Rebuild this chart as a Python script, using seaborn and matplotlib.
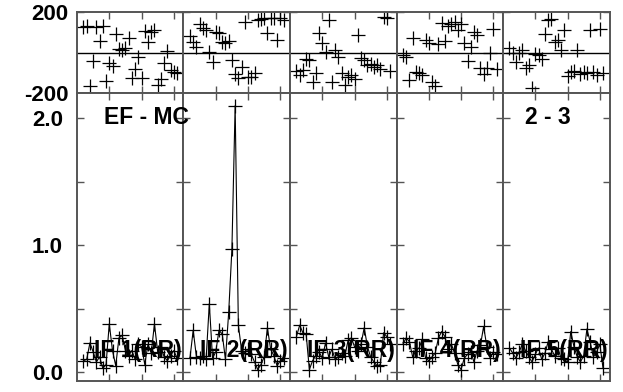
import matplotlib
matplotlib.use('Agg')
import matplotlib.pyplot as plt
import seaborn as sns
import pandas as pd

sns.set_theme(style='white')
plt.rcParams['font.family'] = ['Liberation Sans', 'DejaVu Sans']
plt.rcParams['font.weight'] = 'bold'
plt.rcParams['axes.unicode_minus'] = False
plt.rcParams['text.color'] = 'black'

channels = list(range(2, 32))
if_labels = ['IF 1(RR)', 'IF 2(RR)', 'IF 3(RR)', 'IF 4(RR)', 'IF 5(RR)']

amp_if1 = [0.09, 0.10, 0.23, 0.16, 0.08, 0.12, 0.03, 0.06, 0.38, 0.17, 0.05, 0.27, 0.29, 0.17, 0.13,
           0.17, 0.10, 0.22, 0.20, 0.06, 0.22, 0.15, 0.38, 0.16, 0.20, 0.12, 0.09, 0.13, 0.17, 0.11]
amp_if2 = [0.11, 0.33, 0.12, 0.11, 0.13, 0.10, 0.54, 0.11, 0.16, 0.33, 0.30, 0.10, 0.47, 0.97, 2.10,
           0.37, 0.17, 0.15, 0.18, 0.14, 0.08, 0.02, 0.06, 0.12, 0.35, 0.18, 0.13, 0.05, 0.09, 0.11]
amp_if3 = [0.28, 0.37, 0.31, 0.30, 0.02, 0.09, 0.13, 0.16, 0.11, 0.23, 0.12, 0.18, 0.10, 0.12, 0.15,
           0.13, 0.25, 0.27, 0.20, 0.17, 0.22, 0.35, 0.20, 0.12, 0.08, 0.05, 0.06, 0.31, 0.28, 0.22]
amp_if4 = [0.22, 0.27, 0.24, 0.12, 0.17, 0.19, 0.26, 0.11, 0.09, 0.12, 0.15, 0.27, 0.32, 0.28, 0.18,
           0.22, 0.15, 0.06, 0.02, 0.11, 0.14, 0.16, 0.08, 0.17, 0.21, 0.36, 0.20, 0.11, 0.16, 0.14]
amp_if5 = [0.19, 0.15, 0.11, 0.16, 0.22, 0.17, 0.12, 0.08, 0.14, 0.19, 0.10, 0.15, 0.24, 0.18, 0.13,
           0.19, 0.11, 0.10, 0.08, 0.32, 0.20, 0.12, 0.08, 0.13, 0.34, 0.24, 0.12, 0.16, 0.22, 0.03]

phase_if1 = [127, 130, -165, -40, 127, 58, 130, -140, -50, -67, 91, 15, 12, 20, 73,
             -124, -82, -22, -124, 105, 52, 100, 110, -160, -130, -50, 5, -85, -95, -100]
phase_if2 = [80, 52, 27, 140, 121, 110, 2, -47, 101, 95, 52, 45, 55, -37, -104,
             -126, -70, 151, -121, -121, -101, 160, 165, 170, 96, 168, 172, 62, 168, 160]
phase_if3 = [-90, -111, -86, -30, -37, -145, -100, 96, 47, 2, 160, -145, 10, -20, -100,
             -160, -120, -110, -130, 86, -27, -35, -62, -55, -70, -62, -80, 175, 170, -90]
phase_if4 = [-12, -20, -136, 72, -96, -100, -110, 60, 47, -145, -165, 40, 145, 55, 130,
             140, 150, 111, 140, 47, -42, 27, 101, 86, -77, -106, -77, 0, 116, -80]
phase_if5 = [20, 0, -47, 0, 10, -77, -60, -176, -5, -10, -33, 91, 160, 165, 52,
             60, 12, 111, -116, -96, -90, 10, -105, -95, -100, 111, -96, -111, 115, -100]

amps = [amp_if1, amp_if2, amp_if3, amp_if4, amp_if5]
phases = [phase_if1, phase_if2, phase_if3, phase_if4, phase_if5]

W, H = 623, 392
left, top, mid, bottom, pw = 77, 12, 93, 381, 106.5
frame = '#555555'

fig = plt.figure(figsize=(W / 100, H / 100), dpi=100)

def style(ax):
    for s in ax.spines.values():
        s.set_color(frame)
        s.set_linewidth(1.4)
    ax.tick_params(direction='in', length=5, width=1, color=frame, labelcolor='black',
                   top=True, bottom=True, left=True, right=True,
                   labelsize=16, labelbottom=False)
    ax.set_xlim(0, 33)
    ax.set_xticks([10, 20, 30])
    ax.set_xlabel('')
    ax.set_ylabel('')

for i in range(5):
    x0 = (left + i * pw) / W
    ax_ph = fig.add_axes([x0, (H - mid) / H, pw / W, (mid - top) / H])
    ax_amp = fig.add_axes([x0, (H - bottom) / H, pw / W, (bottom - mid) / H])
    df = pd.DataFrame({'channel': channels, 'amp': amps[i], 'phase': phases[i]})

    sns.scatterplot(data=df, x='channel', y='phase', marker='+', s=100,
                    color='black', linewidth=0.9, ax=ax_ph)
    ax_ph.axhline(0, color='black', lw=1)
    style(ax_ph)
    ax_ph.set_ylim(-200, 200)
    ax_ph.set_yticks([-200, 200])
    ax_ph.tick_params(axis='y', pad=6)

    sns.lineplot(data=df, x='channel', y='amp', marker='+', markersize=10,
                 markeredgewidth=0.9, markeredgecolor='black',
                 color='black', linewidth=0.8, ax=ax_amp)
    style(ax_amp)
    ax_amp.set_ylim(-0.07, 2.2)
    ax_amp.set_yticks([0, 0.5, 1.0, 1.5, 2.0])
    ax_amp.set_yticklabels(['0.0', '', '1.0', '', '2.0'])
    ax_amp.tick_params(axis='y', pad=10)

    if i > 0:
        ax_ph.tick_params(labelleft=False)
        ax_amp.tick_params(labelleft=False)
    for lab in ax_ph.get_yticklabels() + ax_amp.get_yticklabels():
        lab.set_fontweight('bold')

    fig.text((left + i * pw + 0.57 * pw) / W, 1 - 350 / H, if_labels[i],
             ha='center', va='center', fontsize=16.5, fontweight='bold', color='black')

fig.text(104 / W, 1 - 117 / H, 'EF - MC', ha='left', va='center',
         fontsize=16.5, fontweight='bold', color='black')
fig.text(525 / W, 1 - 117 / H, '2 - 3', ha='left', va='center',
         fontsize=16.5, fontweight='bold', color='black')

plt.savefig('out.png', dpi=100)
plt.close()
